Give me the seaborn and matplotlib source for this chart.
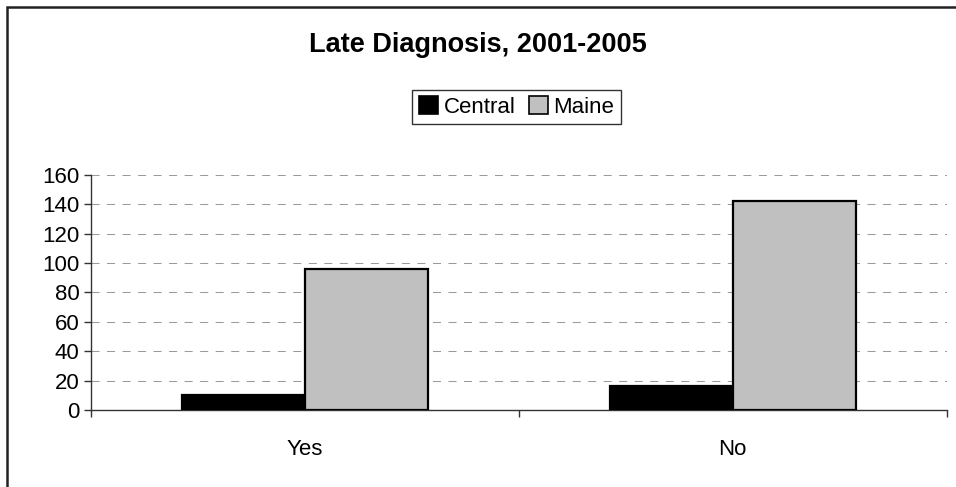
import matplotlib
matplotlib.use("Agg")
import matplotlib.pyplot as plt
import seaborn as sns
import pandas as pd
from matplotlib.patches import Rectangle, Patch

categories = ["Yes", "No"]
series_names = ["Central", "Maine"]
central_values = [10, 16]
maine_values = [96, 142]
title_text = "Late Diagnosis, 2001-2005"
y_ticks = [0, 20, 40, 60, 80, 100, 120, 140, 160]

df = pd.DataFrame({
    "category": categories * 2,
    "series": [series_names[0]] * 2 + [series_names[1]] * 2,
    "value": central_values + maine_values,
})

sns.set_style("white")
plt.rcParams["font.family"] = ["Liberation Sans", "DejaVu Sans"]
plt.rcParams["text.color"] = "black"
plt.rcParams["xtick.color"] = "black"
plt.rcParams["ytick.color"] = "black"

W, H = 956, 487
fig = plt.figure(figsize=(W / 100, H / 100), dpi=100)
ax = fig.add_axes([90.7 / W, 1 - 410 / H, (946.7 - 90.7) / W, (410 - 174.7) / H])

palette = {"Central": "#000000", "Maine": "#C0C0C0"}
sns.barplot(data=df, x="category", y="value", hue="series", order=categories,
            hue_order=series_names, palette=palette, width=0.575, gap=0,
            edgecolor="black", linewidth=1.6, saturation=1, ax=ax, legend=False,
            zorder=3)

ax.set_xlim(-0.5, 1.5)
ax.set_ylim(0, 160)
ax.set_yticks(y_ticks)
ax.set_xlabel("")
ax.set_ylabel("")

for v in y_ticks[1:]:
    ax.axhline(v, color="#9a9a9a", lw=0.75, linestyle=(0, (7.7, 7.2)), zorder=1)

for s in ["top", "right"]:
    ax.spines[s].set_visible(False)
for s in ["left", "bottom"]:
    ax.spines[s].set_color("#333333")
    ax.spines[s].set_linewidth(1.0)

ax.tick_params(axis="y", which="major", direction="out", length=5, width=1,
               color="#333333", labelcolor="black", labelsize=16, pad=3, left=True)
ax.tick_params(axis="x", which="major", length=0, labelsize=16, labelcolor="black", pad=21)
ax.set_xticks([-0.5, 0.5, 1.5], minor=True)
ax.tick_params(axis="x", which="minor", direction="out", length=5, width=1,
               color="#333333", bottom=True)

fig.text(478 / W, 1 - 45 / H, title_text, ha="center", va="center",
         fontsize=19.5, fontweight="bold", color="black")

handles = [Patch(facecolor=palette[n], edgecolor="black", linewidth=1.2, label=n)
           for n in series_names]
leg = fig.legend(handles=handles, loc="center", bbox_to_anchor=(516.5 / W, 1 - 107 / H),
                 ncol=2, frameon=True, fontsize=16, handlelength=0.85, handleheight=0.85,
                 handletextpad=0.25, columnspacing=0.6, borderpad=0.3, fancybox=False,
                 labelcolor="black")
leg.get_frame().set_edgecolor("black")
leg.get_frame().set_linewidth(1.0)

fig.patches.append(Rectangle((7 / W, -0.1), 1.2, (1 - 7 / H) + 0.1,
                             transform=fig.transFigure, fill=False,
                             edgecolor="#222222", linewidth=1.8))

fig.savefig("out.png", dpi=100)
